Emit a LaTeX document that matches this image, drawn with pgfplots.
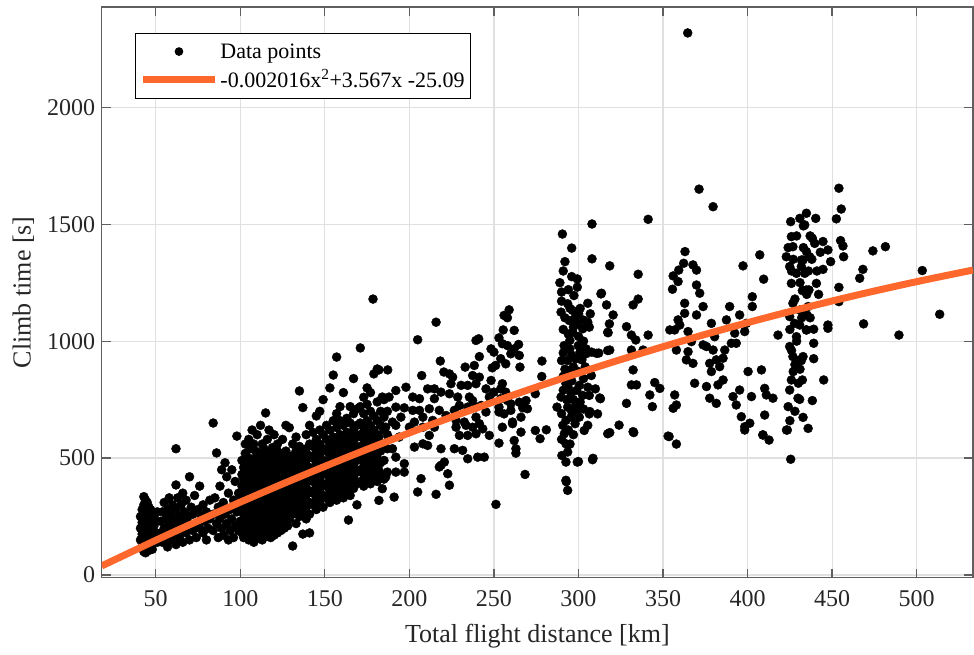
\documentclass[border=0pt]{standalone}
\usepackage{fontspec}
\setmainfont{Liberation Serif}
\usepackage{pgfplots}
\pgfplotsset{compat=1.18}
\definecolor{fitorange}{RGB}{255,104,44}
\definecolor{axgray}{RGB}{95,95,95}
\pgfplotsset{
  dotlegend/.style={legend image code/.code={\path[draw=none,fill=none] (0pt,-1pt) rectangle (72pt,1pt); \draw[black, fill=black, mark=*, mark size=3.8pt] plot[only marks] coordinates {(36pt,0pt)};}},
  linelegend/.style={legend image code/.code={\draw[##1] (0pt,0pt) -- (72pt,0pt);}},
}
\begin{document}
\begin{tikzpicture}
\begin{axis}[
  scale only axis, width=871.3pt, height=570.7pt,
  clip mode=individual,
  xmin=18.07, xmax=533.3, ymin=-11.5, ymax=2429,
  xtick={50,100,...,500}, ytick={0,500,1000,1500,2000},
  tick align=inside, major tick length=9pt,
  axis line style={axgray, line width=1.3pt},
  tick style={axgray, line width=1.3pt},
  grid=major, major grid style={black!12, line width=1.2pt},
  /pgf/number format/assume math mode=true,
  /pgf/number format/set thousands separator={},
  tick label style={font=\fontsize{24}{28}\selectfont, text=black!85},
  xticklabel style={yshift=-9pt},
  yticklabel style={xshift=-3pt},
  xlabel={Total flight distance [km]},
  ylabel={Climb time [s]},
  label style={font=\fontsize{26}{30}\selectfont, text=black!85},
  xlabel style={at={(axis description cs:0.5,-0.1144)}, anchor=base},
  ylabel style={at={(axis description cs:-0.0815,0.5)}, anchor=base},
  legend style={at={(axis description cs:0.0382,0.9544)}, anchor=north west, draw=black, line width=1pt, fill=white, font=\fontsize{22}{26}\selectfont, inner xsep=4pt, inner ysep=8pt, row sep=6pt},
  legend cell align=left,
]
\addplot[only marks, mark=*, mark size=4.5pt, black, dotlegend]
coordinates {
(41,150)(41,200)(41,250)(42,120)(42,175)(42,225)(42,280)(43,100)(43,140)(43,190)(43,240)(43,300)(44,110)(44,160)(44,210)(44,260)(44,320)(45,130)(45,180)(45,230)(45,270)(46,105)(46,150)(46,200)(46,250)(46,290)(47,120)(47,170)(47,215)(47,260)(48,140)(48,190)(48,235)(49,160)(49,210)(49,250)(44,95)(45,310)(43,335)(47,280)(48,110)(50,180)(50,230)(51,140)(51,270)
(53,180)(53,230)(54,140)(54,270)(55,200)(55,310)(56,160)(56,240)(57,120)(57,190)(57,280)(58,220)(58,330)(59,150)(59,260)(60,200)(60,300)(61,170)(61,240)(62,130)(62,280)(62,385)(62,540)(63,210)(63,330)(64,160)(64,250)(65,190)(65,300)(66,140)(66,230)(66,350)(67,270)(68,180)(68,210)(68,320)(69,250)(70,150)(70,220)(70,420)(71,290)(72,190)(72,260)(73,340)(74,220)(74,160)(75,280)(76,200)(76,380)(77,250)(78,180)(78,300)(79,230)(80,150)(80,270)(81,200)(82,320)(82,240)
(84,650)(86,522)(98,594)(84,190)(84,260)(85,330)(86,220)(87,160)(87,290)(88,380)(88,240)(89,200)(90,310)(90,170)(91,260)(92,420)(92,220)(93,350)(94,190)(94,280)(95,240)(95,450)(96,320)(96,160)(97,210)(97,400)(98,270)(99,350)(99,190)(100,300)(100,230)(89,450)(91,480)(93,150)
(101,180)(101,230)(101,280)(101,330)(101,380)(101,430)(101,490)
(102,160)(102,210)(102,260)(102,310)(102,360)(102,410)(102,460)
(103,200)(103,250)(103,300)(103,350)(103,400)(103,450)(103,520)(103,560)
(104,170)(104,220)(104,270)(104,320)(104,370)(104,420)(104,470)
(105,150)(105,200)(105,250)(105,300)(105,350)(105,400)(105,450)(105,500)(105,580)
(106,185)(106,235)(106,285)(106,335)(106,385)(106,435)(106,485)(106,540)
(107,165)(107,215)(107,265)(107,315)(107,365)(107,415)(107,465)(107,620)
(108,140)(108,195)(108,245)(108,295)(108,345)(108,395)(108,445)(108,495)(108,560)
(109,175)(109,225)(109,275)(109,325)(109,375)(109,425)(109,475)(109,530)
(110,155)(110,205)(110,255)(110,305)(110,355)(110,405)(110,455)(110,505)(110,600)
(111,185)(111,235)(111,285)(111,335)(111,385)(111,435)(111,485)
(112,170)(112,220)(112,270)(112,320)(112,370)(112,420)(112,470)(112,520)(112,640)
(113,150)(113,200)(113,250)(113,300)(113,350)(113,400)(113,450)(113,500)(113,560)
(114,185)(114,235)(114,285)(114,335)(114,385)(114,435)(114,485)(114,540)
(115,165)(115,215)(115,265)(115,315)(115,365)(115,415)(115,465)(115,515)(115,693)
(116,200)(116,250)(116,300)(116,350)(116,400)(116,450)(116,500)(116,580)
(117,175)(117,225)(117,275)(117,325)(117,375)(117,425)(117,475)(117,525)(117,620)
(118,160)(118,210)(118,260)(118,310)(118,360)(118,410)(118,460)(118,510)
(119,190)(119,240)(119,290)(119,340)(119,390)(119,440)(119,490)(119,545)
(120,170)(120,220)(120,270)(120,320)(120,370)(120,420)(120,470)(120,520)(120,600)
(121,200)(121,250)(121,300)(121,350)(121,400)(121,450)(121,500)
(122,180)(122,230)(122,280)(122,330)(122,380)(122,430)(122,480)(122,530)(122,560)
(123,210)(123,260)(123,310)(123,360)(123,410)(123,460)(123,510)
(124,190)(124,240)(124,290)(124,340)(124,390)(124,440)(124,490)
(125,220)(125,270)(125,320)(125,370)(125,420)(125,470)(125,520)(125,580)
(126,200)(126,250)(126,300)(126,350)(126,400)(126,450)(126,500)
(127,230)(127,280)(127,330)(127,380)(127,430)(127,480)(127,530)(127,640)
(128,210)(128,260)(128,310)(128,360)(128,410)(128,460)(128,510)
(129,240)(129,290)(129,340)(129,390)(129,440)(129,490)(129,630)
(131,124)(131,260)(131,310)(131,360)(131,410)(131,460)(131,510)(131,560)
(133,220)(133,280)(133,330)(133,380)(133,430)(133,480)(133,530)(133,590)
(135,250)(135,300)(135,350)(135,400)(135,450)(135,500)(135,550)(135,787)
(137,175)(137,270)(137,320)(137,370)(137,420)(137,470)(137,520)(137,716)
(139,240)(139,290)(139,340)(139,390)(139,440)(139,490)(139,540)(139,600)
(141,180)(141,260)(141,310)(141,360)(141,410)(141,460)(141,510)(141,560)(141,640)
(143,300)(143,350)(143,400)(143,450)(143,500)(143,550)(143,610)
(145,280)(145,330)(145,380)(145,430)(145,480)(145,530)(145,580)(145,680)
(147,310)(147,360)(147,410)(147,460)(147,510)(147,560)(147,620)(147,700)
(149,290)(149,340)(149,390)(149,440)(149,490)(149,540)(149,600)(149,750)
(151,330)(151,380)(151,430)(151,480)(151,530)(151,580)(151,640)
(153,310)(153,360)(153,410)(153,460)(153,510)(153,560)(153,620)(153,800)
(155,340)(155,390)(155,440)(155,490)(155,540)(155,590)(155,660)(155,855)
(157,320)(157,370)(157,420)(157,470)(157,520)(157,570)(157,630)(157,690)(157,932)
(159,350)(159,400)(159,450)(159,500)(159,550)(159,600)(159,660)(159,720)
(161,330)(161,380)(161,430)(161,480)(161,530)(161,580)(161,640)(161,780)
(163,360)(163,410)(163,460)(163,510)(163,560)(163,610)(163,670)
(164,235)(165,340)(165,390)(165,440)(165,490)(165,540)(165,590)(165,650)(165,720)
(167,370)(167,420)(167,470)(167,520)(167,570)(167,620)(167,690)(167,840)
(169,300)(169,390)(169,440)(169,490)(169,540)(169,590)(169,640)(169,710)
(171,400)(171,450)(171,500)(171,550)(171,600)(171,650)(171,720)(171,971)
(173,380)(173,430)(173,480)(173,530)(173,580)(173,630)(173,690)(173,760)
(175,410)(175,460)(175,510)(175,560)(175,610)(175,660)(175,730)(175,800)
(177,390)(177,440)(177,490)(177,540)(177,590)(177,640)(177,700)(177,780)
(179,420)(179,470)(179,520)(179,570)(179,620)(179,680)(179,860)(178.5,1180)
(181,400)(181,450)(181,500)(181,550)(181,600)(181,660)(181,740)(181,881)
(183,430)(183,480)(183,530)(183,640)(183,700)
(185,410)(185,560)(185,620)(185,750)
(187,440)(187,540)(187,600)(187,700)
(215.8,1081)(204.9,1006)(187.2,877)(182,877)(259,1134)(256,1110)(258,1100)(255.5,1048)(262,1046)(253,1014)(239.4,1003)(241,1010)(248.3,967)(250,953)(255,989)(258,981)(262,967)(264.6,986)(260,946)(241.4,934)(254,925)(251,896)(257,903)(265,939)(265.4,889)(218.3,915)(233,889)(238.4,896)(249,886)(220.4,868)(223.7,860)(225.6,846)(207.3,853)(237.4,853)(241.4,846)(224.6,818)(230.6,811)(234.5,811)(239.4,818)(248.3,832)(255,818)(254,796)(192,789)(198,803)(210.8,796)(214.8,796)(218.7,782)(223.7,775)(245.3,796)(250,782)(257,782)
(184,761)(188,761)(202,761)(206,754)(214.8,754)(228.6,761)(235.5,761)(237.4,746)(247.3,761)(254,754)(258,746)(260,732)(265,739)(269,746)(274.5,775)(192,718)(197,715)(202,704)(206,704)(211.8,711)(217.7,704)(226.6,704)(229.6,725)(234.5,718)(239.4,718)(242.4,725)(253,718)(260,704)(267,715)(269.8,711)
(185,675)(190,654)(195,675)(203,654)(208,675)(213.8,661)(221.7,682)(227.6,661)(232.5,654)(239.4,675)(245.3,697)(253,697)(256,689)(261,654)(266,675)(186,632)(192,640)(200,632)(208,632)(214.8,632)(227.6,632)(233.5,640)(237.4,632)(241.4,647)(243.4,625)(255,632)(261,647)(274.5,618)(281,621)(277.3,583)
(182,590)(188,583)(194,590)(203,547)(211.8,597)(229.6,597)(234.5,597)(239.4,604)(247.3,597)(262,575)(266,611)(184,547)(190,540)(208,561)(210.8,554)(218.7,540)(226.6,540)(231.5,533)(253,564)(263,540)(263,521)(185,490)(192,504)(197,476)(218.7,469)(220.7,483)(234.5,497)(240.4,504)(244.3,504)
(182,447)(186,419)(192,440)(197,440)(206.9,412)(217.7,462)(222.7,433)(223.7,384)(268.4,430)(184,369)(191,333)(204.9,355)(215.8,345)(251.2,302)(182,319)(278.4,915)(278.3,849)
(296,1276)(299.3,1266)(299.3,1231)(297.3,1195)(290,1171)(293.6,1160)(305.5,1162)(289.7,1124)(296.6,1131)(300.1,1117)(307,1117)(313.3,1202)(294.6,1088)(299.3,1074)(305.5,1081)(296.6,1038)(302.5,1053)(306.4,1060)(317.3,1038)(318.3,1074)(291.5,981)(294.9,1003)(299.9,981)(304.5,967)(307.8,953)(294.9,967)(300.9,953)(290,917)(293.6,917)(298.4,925)(304.5,946)(312,949)(317.3,960)(294.9,875)(307.6,853)(292.6,818)(300.5,811)(305.5,803)(310,796)
(289.7,761)(295.7,775)(302.5,768)(306.4,768)(313,754)(287.3,718)(293.6,718)(298.4,725)(300.5,675)(306.4,689)(311.3,689)(292.6,661)(298,647)(305.5,640)(290.7,640)(295.7,675)(291.6,604)(292.6,561)(293.6,526)(292.6,483)(299.3,483)(308.3,493)(303.4,618)(317.3,604)(292.6,405)(293.6,362)(290.2,511)
(292,1100)(295,1140)(298,1100)(301,1140)(303,1090)(291,1050)(294,1030)(297,1060)(300,1020)(303,1000)(291,950)(296,940)(302,920)(297,890)(292,880)(300,870)(304,890)(291,850)(296,830)(303,840)(294,800)(299,790)(291,790)(297,750)(301,740)(293,750)(296,700)(303,710)(290,690)(299,700)(294,620)(297,600)(290,580)(295,560)
(290.5,1458)(296,1398)(308,1501)(308,1352)(292,1340)(291,1300)(289,1250)(294,1220)(290,1210)
(292.8,399)(300,485)(308.6,499)(306.7,699)(312.6,757)(310.7,948)(313.6,1205)(316.6,1155)(318.5,1322)(320.5,1112)(317.5,1036)(318.5,962)(318.5,609)(324,641)
(341.2,1521)(335.3,1286)(332.3,1155)(335.3,1180)(328.4,1062)(331.3,1026)(333.9,1005)(331.3,962)(332.3,877)(334.3,813)(331.3,813)(328.4,734)(342.2,770)(343.7,720)(332.3,613)(345.1,823)(348.1,798)(338.2,962)(341.2,1026)(332.7,609)(353.6,592)(357.9,560)
(364.6,2318)(371.3,1650)(379.6,1575)(363,1383)(367.7,1326)(359.3,1304)(356,1279)(362.2,1333)(369.8,1304)(358.9,1255)(355.6,1222)(369.8,1240)(371.7,1205)(362.8,1162)(373.7,1148)(369.8,1112)(358.9,1091)(362.8,1119)(359.9,1069)(356.9,1048)(354,1048)(364.8,1041)(366.8,998)(357.9,962)(364.8,955)(367.7,905)(363.8,920)(368.7,820)(356.9,770)(356,713)(357.9,727)(353,594)
(378.6,1076)(380.5,1019)(375.7,977)(379.6,962)(373.7,984)(377.6,905)(381.5,920)(378.6,870)(383.5,891)(375.7,806)(382.5,813)(385.5,834)(377.6,756)(381.5,734)
(387.5,1091)(389.4,1148)(395.3,1112)(392.4,1034)(390.4,991)(386.5,962)(385.5,927)(393.3,991)(398.3,1041)(399.3,1076)(402.8,1190)(402.8,1148)(397.3,1322)(407.2,1369)(409.5,1265)(400.3,870)(408.2,877)(410.1,798)(391.4,763)(395.3,791)(402.3,763)(393.3,727)(396.3,677)(398.3,634)(401.3,649)(409.1,599)(412.7,577)(410.1,684)(415,756)(411.1,770)(398.3,620)(409,599)
(425.5,1511)(430.9,1525)(433.8,1497)(434.8,1547)(425.9,1447)(426.8,1404)(431.8,1347)(424.9,1319)(428.9,1290)(422.9,1361)(425.9,1247)(426.8,1162)(430.9,1133)(424.9,1105)(427.8,1076)(428.9,1019)(424.9,977)(426.8,934)(430.9,920)(425.9,834)(424.9,791)(429.8,756)(423.5,620)(425.5,495)(418,1026)(434.8,1219)(435.8,1148)(434.8,1048)(432.8,934)(423,620)
(454,1654)(455.4,1565)(452.5,1523)(440.3,1525)(433,1493)(438.3,1440)(439.7,1418)(444.6,1426)(447.5,1390)(436.7,1361)(434.8,1383)(432.8,1347)(431.8,1319)(433.8,1290)(444.6,1307)(449.1,1340)(440.7,1247)(436.3,1219)(432.4,1216)(455,1430)(456.4,1407)(456.8,1361)(454,1230)(454,1169)
(474.1,1386)(481.5,1404)(468.2,1307)(466.3,1269)(468.6,1074)(503.3,1302)(513.6,1115)(489.5,1026)
(435.1,1112)(430.8,1069)(434.8,1048)(439.1,1051)(447.5,1069)(447.5,1055)(439.1,991)(431.8,917)(439.1,925)(432.4,834)(445,834)(430.8,751)(438.3,746)(432.8,674)(435.8,627)
(424,1400)(427,1350)(429,1450)(431,1250)(426,1300)(428,1180)(432,1100)(425,1050)(429,1000)(431,880)(426,960)(428,900)(427,870)(430,820)(424,720)(428,700)(425,660)(433,1400)(436,1300)(437,1450)(435,1200)(438,1350)(441,1300)(443,1380)(442,1200)(437,1100)
};
\addplot[fitorange, line width=7pt, smooth, linelegend]
coordinates {(18.07,38.71)(50,148.22)(75,231.10)(100,311.45)(125,389.29)(150,464.60)(175,537.40)(200,607.67)(225,675.43)(250,740.66)(275,803.38)(300,863.57)(325,921.25)(350,976.40)(375,1029.04)(400,1079.15)(425,1126.75)(450,1171.82)(475,1214.38)(500,1254.41)(525,1291.93)(533.3,1303.82)};
\legend{Data points, -0.002016x\textsuperscript{2}+3.567x -25.09}
\end{axis}
\path (current axis.south west) ++(-101.7pt,-77.3pt) rectangle ([shift={(1pt,7pt)}]current axis.north east);
\end{tikzpicture}
\end{document}
